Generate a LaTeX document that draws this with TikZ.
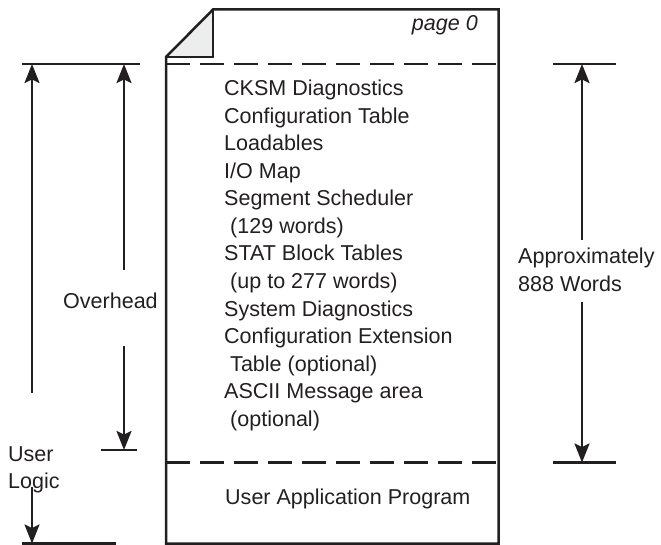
\documentclass[tikz,border=0pt]{standalone}
\usepackage{fontspec}
\setmainfont{Liberation Sans}
\usetikzlibrary{arrows.meta}
\definecolor{ink}{HTML}{231F20}
\definecolor{foldgrey}{HTML}{ECEEEE}
\begin{document}
\begin{tikzpicture}[x=1bp,y=-1bp,
  lbl/.style={inner sep=0pt,text=ink,font=\fontsize{21.6}{27.6}\selectfont},
  dim/.style={line width=2.2bp,draw=ink},
  dimarrow/.style={dim,-{Stealth[length=19bp,width=15bp,inset=3.5bp]}},
  outline/.style={line width=2.5bp,draw=ink},
  sep/.style={line width=2.5bp,draw=ink,dash pattern=on 24bp off 10bp}]
\useasboundingbox (0,0) rectangle (661,545);

% page outline with folded corner
\coordinate (pTL) at (213,9.5);
\coordinate (pTR) at (498.5,9.5);
\coordinate (pBR) at (498.5,543.5);
\coordinate (pBL) at (166,543.5);
\coordinate (pFL) at (166,57);
\coordinate (pFC) at (213,57);
\fill[foldgrey] (pTL) -- (pFC) -- (pFL) -- cycle;
\draw[line width=1.4bp,draw=ink] (pTL) -- (pFC) -- (pFL);
\draw[outline,line join=miter] (pFL) -- (pTL) -- (pTR) -- (pBR) -- (pBL) -- cycle;

% section separators
\coordinate (s1L) at (166,64);
\coordinate (s1R) at (502,64);
\coordinate (s2L) at (166,462.5);
\coordinate (s2R) at (502,462.5);
\draw[sep] (s1L) -- (s1R);
\draw[sep] (s2L) -- (s2R);

\node[lbl,anchor=base east,font=\fontsize{21.6}{27.6}\selectfont\itshape] (pg) at (478,31) {page 0};

% overhead contents
\foreach \t [count=\i] in {CKSM Diagnostics,Configuration Table,Loadables,I/O Map,
  Segment Scheduler,\hspace*{0.28em}(129 words),STAT Block Tables,
  \hspace*{0.28em}(up to 277 words),System Diagnostics,Configuration Extension,
  \hspace*{0.28em}Table (optional),ASCII Message area,\hspace*{0.28em}(optional)}
  \node[lbl,anchor=base west] (l\i) at (224,{95.5+27.58*(\i-1)}) {\t};

\node[lbl,anchor=base west] (uap) at (225,504) {User Application Program};

% side labels
\node[lbl,anchor=base west] (ovh) at (63,308) {Overhead};
\node[lbl,anchor=base west] (ul1) at (8,461) {User};
\node[lbl,anchor=base west] (ul2) at (8,488) {Logic};
\node[lbl,anchor=base west] (ap1) at (518,264) {Approximately};
\node[lbl,anchor=base west] (ap2) at (518,291) {888 Words};

% dimension ticks
\coordinate (tA1) at (22,64);   \coordinate (tA2) at (140,64);
\coordinate (tB1) at (101,450); \coordinate (tB2) at (137,450);
\coordinate (tC1) at (22,543.5);\coordinate (tC2) at (116,543.5);
\coordinate (tD1) at (553,64);  \coordinate (tD2) at (616,64);
\coordinate (tE1) at (553,462.5);\coordinate (tE2) at (616,462.5);
\foreach \a/\b in {tA1/tA2,tB1/tB2,tC1/tC2,tD1/tD2,tE1/tE2}
  \draw[dim] (\a) -- (\b);

% user logic span
\coordinate (uTop) at (32,64);
\coordinate (uEnd) at (32,393);
\coordinate (uBeg) at (32,487);
\coordinate (uBot) at (32,543.5);
\draw[dimarrow] (uEnd) -- (uTop);
\draw[dimarrow] (uBeg) -- (uBot);

% overhead span
\coordinate (oTop) at (124,64);
\coordinate (oEnd) at (124,270);
\coordinate (oBeg) at (124,346);
\coordinate (oBot) at (124,450);
\draw[dimarrow] (oEnd) -- (oTop);
\draw[dimarrow] (oBeg) -- (oBot);

% word count span
\coordinate (wTop) at (582,64);
\coordinate (wEnd) at (582,240);
\coordinate (wBeg) at (582,302);
\coordinate (wBot) at (582,462.5);
\draw[dimarrow] (wEnd) -- (wTop);
\draw[dimarrow] (wBeg) -- (wBot);
\end{tikzpicture}
\end{document}
